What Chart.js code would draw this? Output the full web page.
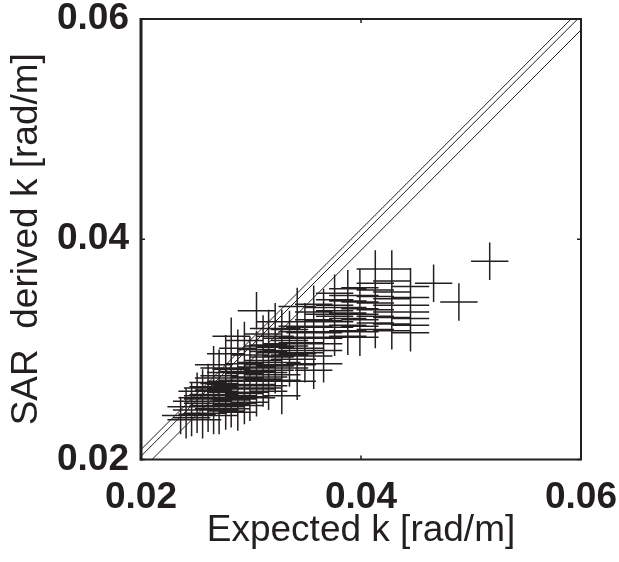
<!DOCTYPE html>
<html>
<head>
<meta charset="utf-8">
<script src="https://cdn.jsdelivr.net/npm/chart.js@4.4.0/dist/chart.umd.min.js"></script>
<style>
  html, body { margin: 0; padding: 0; background: #fff; }
  #wrap { width: 619px; height: 562px; }
</style>
</head>
<body>
<div id="wrap"><canvas id="kChart"></canvas></div>
<script>
// axis ticks (both axes share the same range)
const axisTicks = [0.02, 0.04, 0.06];

// expected k values come in discrete columns
const kColumns = [
    0.0236, 0.0241, 0.0246, 0.0251, 0.0256, 0.0261, 0.0266, 0.0271,
    0.0277, 0.0282, 0.0288, 0.0294, 0.0299, 0.0305, 0.0311, 0.0316,
    0.0322, 0.0328, 0.0335, 0.0342, 0.0349, 0.0357, 0.0366, 0.0376,
    0.0388, 0.0399, 0.0413, 0.0428, 0.0445, 0.0466, 0.0489, 0.0517
];

// SAR derived k for each column above
const sarByColumn = [
    [0.0240],
    [0.0236, 0.0248],
    [0.0238, 0.0245, 0.0253],
    [0.0241, 0.0248, 0.0256, 0.0262],
    [0.0236, 0.0242, 0.0245, 0.0251, 0.0255, 0.0258, 0.0265],
    [0.0242, 0.0245, 0.0249, 0.0255, 0.0259, 0.0262, 0.0266, 0.0270],
    [0.0240, 0.0246, 0.0249, 0.0253, 0.0259, 0.0263, 0.0266, 0.0274, 0.0286],
    [0.0240, 0.0245, 0.0249, 0.0256, 0.0259, 0.0262, 0.0266, 0.0269, 0.0276, 0.0283],
    [0.0244, 0.0248, 0.0251, 0.0258, 0.0261, 0.0264, 0.0268, 0.0271, 0.0279, 0.0296],
    [0.0246, 0.0250, 0.0254, 0.0261, 0.0264, 0.0267, 0.0271, 0.0274, 0.0282, 0.0312],
    [0.0243, 0.0251, 0.0255, 0.0258, 0.0265, 0.0268, 0.0272, 0.0280, 0.0301],
    [0.0249, 0.0257, 0.0260, 0.0264, 0.0271, 0.0274, 0.0278, 0.0287, 0.0308],
    [0.0252, 0.0257, 0.0261, 0.0268, 0.0271, 0.0275, 0.0279, 0.0283, 0.0295],
    [0.0256, 0.0264, 0.0268, 0.0272, 0.0280, 0.0284, 0.0288, 0.0300, 0.0335],
    [0.0265, 0.0273, 0.0277, 0.0281, 0.0286, 0.0290, 0.0303, 0.0314],
    [0.0262, 0.0267, 0.0271, 0.0275, 0.0279, 0.0283, 0.0288, 0.0293, 0.0298, 0.0304, 0.0319],
    [0.0277, 0.0281, 0.0285, 0.0293, 0.0297, 0.0302, 0.0312, 0.0325],
    [0.0258, 0.0272, 0.0277, 0.0283, 0.0288, 0.0294, 0.0299, 0.0305, 0.0310, 0.0319],
    [0.0283, 0.0291, 0.0295, 0.0299, 0.0303, 0.0308, 0.0318],
    [0.0271, 0.0286, 0.0291, 0.0296, 0.0301, 0.0306, 0.0311, 0.0316, 0.0321, 0.0339],
    [0.0287, 0.0297, 0.0301, 0.0306, 0.0310, 0.0315, 0.0320, 0.0325],
    [0.0281, 0.0294, 0.0299, 0.0305, 0.0310, 0.0316, 0.0321, 0.0327, 0.0334, 0.0341],
    [0.0287, 0.0299, 0.0305, 0.0310, 0.0315, 0.0320, 0.0326, 0.0332, 0.0338],
    [0.0311, 0.0316, 0.0320, 0.0325, 0.0330, 0.0335, 0.0340, 0.0345, 0.0351],
    [0.0312, 0.0317, 0.0322, 0.0328, 0.0333, 0.0338, 0.0344, 0.0349, 0.0355],
    [0.0311, 0.0316, 0.0321, 0.0327, 0.0332, 0.0337, 0.0343, 0.0349, 0.0356],
    [0.0318, 0.0324, 0.0330, 0.0336, 0.0342, 0.0348, 0.0354, 0.0360, 0.0373],
    [0.0317, 0.0323, 0.0329, 0.0334, 0.0340, 0.0346, 0.0352, 0.0362, 0.0373],
    [0.0315, 0.0322, 0.0328, 0.0334, 0.0340, 0.0347, 0.0357],
    [0.0360],
    [0.0343],
    [0.0380]
];

// half-length of the error bars
const kErr = 0.0017;
const sarErr = 0.0017;

// the three reference lines, y = x + offset
const lineOffsets = [0.0009, 0.0003, -0.0010];

const ink = '#231f20';
const fontFamily = '"Liberation Sans", Arial, Helvetica, sans-serif';

// build the crosses as broken line segments (null y breaks the line)
const hBars = [];
const vBars = [];
kColumns.forEach((k, i) => {
    sarByColumn[i].forEach(s => {
        hBars.push({ x: k - kErr, y: s }, { x: k + kErr, y: s }, { x: k, y: null });
        vBars.push({ x: k, y: s - sarErr }, { x: k, y: s + sarErr }, { x: k, y: null });
    });
});

const refLines = lineOffsets.map(off => ({
    data: [
        { x: axisTicks[0], y: axisTicks[0] + off },
        { x: axisTicks[axisTicks.length - 1], y: axisTicks[axisTicks.length - 1] + off }
    ],
    showLine: true,
    borderColor: ink,
    borderWidth: 1,
    pointRadius: 0
}));

// box round the plot with small inward ticks, like the original figure
const frameBox = {
    id: 'frameBox',
    afterDatasetsDraw(chart) {
        const { ctx, chartArea: a, scales: { x, y } } = chart;
        ctx.save();
        ctx.strokeStyle = ink;
        ctx.lineWidth = 2;
        ctx.strokeRect(a.left, a.top, a.right - a.left, a.bottom - a.top);
        ctx.lineWidth = 3;
        ctx.beginPath();
        ctx.moveTo(a.left, a.top - 1);
        ctx.lineTo(a.left, a.bottom + 1);
        ctx.stroke();
        ctx.lineWidth = 1.5;
        ctx.beginPath();
        axisTicks.forEach(v => {
            const px = x.getPixelForValue(v);
            const py = y.getPixelForValue(v);
            ctx.moveTo(px, a.bottom); ctx.lineTo(px, a.bottom - 4);
            ctx.moveTo(px, a.top); ctx.lineTo(px, a.top + 4);
            ctx.moveTo(a.left, py); ctx.lineTo(a.left + 4, py);
            ctx.moveTo(a.right, py); ctx.lineTo(a.right - 4, py);
        });
        ctx.stroke();
        ctx.restore();
    }
};

// labels are allowed to hang outside the plot box, so drop the auto padding
function noOverflowPadding(scale) {
    scale.paddingTop = 0;
    scale.paddingBottom = 0;
    scale.paddingLeft = 0;
    scale.paddingRight = 0;
}

const ctx = document.getElementById('kChart').getContext('2d');
new Chart(ctx, {
    type: 'scatter',
    data: {
        datasets: [
            ...refLines,
            {
                data: hBars,
                showLine: true,
                spanGaps: false,
                borderColor: ink,
                borderWidth: 1.5,
                pointRadius: 0
            },
            {
                data: vBars,
                showLine: true,
                spanGaps: false,
                borderColor: ink,
                borderWidth: 1.5,
                pointRadius: 0
            }
        ]
    },
    options: {
        responsive: true,
        maintainAspectRatio: false,
        animation: false,
        layout: { padding: { top: 19, right: 38, bottom: 0, left: 0 } },
        plugins: {
            legend: { display: false },
            tooltip: { enabled: false }
        },
        scales: {
            x: {
                type: 'linear',
                min: 0.02,
                max: 0.06,
                afterBuildTicks: scale => { scale.ticks = axisTicks.map(v => ({ value: v })); },
                afterFit: scale => { scale.height = 102.5; noOverflowPadding(scale); },
                grid: { display: false, drawTicks: false },
                border: { display: false },
                ticks: {
                    color: ink,
                    padding: 16,
                    font: { family: fontFamily, size: 37, weight: 'bold' },
                    callback: v => v.toFixed(2)
                },
                title: {
                    display: true,
                    text: 'Expected k [rad/m]',
                    color: ink,
                    font: { family: fontFamily, size: 37 },
                    padding: { top: 0, bottom: 9 }
                }
            },
            y: {
                type: 'linear',
                min: 0.02,
                max: 0.06,
                afterBuildTicks: scale => { scale.ticks = axisTicks.map(v => ({ value: v })); },
                afterFit: scale => { scale.width = 141; noOverflowPadding(scale); },
                grid: { display: false, drawTicks: false },
                border: { display: false },
                ticks: {
                    color: ink,
                    padding: 12,
                    font: { family: fontFamily, size: 37, weight: 'bold' },
                    callback: v => v.toFixed(2)
                },
                title: {
                    display: true,
                    text: 'SAR  derived k [rad/m]',
                    color: ink,
                    font: { family: fontFamily, size: 37 },
                    padding: { top: 5, bottom: 0 }
                }
            }
        }
    },
    plugins: [frameBox]
});
</script>
</body>
</html>
